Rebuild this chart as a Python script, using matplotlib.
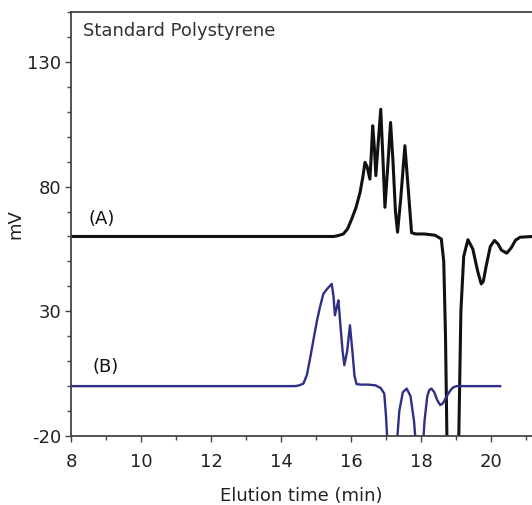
import matplotlib
matplotlib.use("Agg")
import matplotlib.pyplot as plt
from matplotlib.ticker import MultipleLocator

# ---- data ----
a_time = [8.0, 15.5, 15.62, 15.78, 15.9, 16.02, 16.14, 16.26, 16.34, 16.4, 16.46, 16.54,
          16.58, 16.62, 16.67, 16.71, 16.78, 16.85, 16.91, 16.97, 17.05, 17.13, 17.2,
          17.27, 17.33, 17.42, 17.54, 17.63, 17.73, 17.85, 18.1, 18.4, 18.58, 18.65,
          18.7, 18.74, 18.8, 18.9, 19.0, 19.08, 19.14, 19.22, 19.34, 19.48, 19.62,
          19.72, 19.78, 19.86, 19.98, 20.1, 20.2, 20.3, 20.45, 20.58, 20.7, 20.83, 21.2]
a_mv = [60.0, 60.0, 60.3, 61.0, 63.0, 67.0, 71.5, 77.7, 84.0, 89.7, 88.0, 83.0,
        93.0, 104.4, 95.0, 84.4, 98.0, 111.0, 92.0, 71.7, 88.0, 105.7, 90.0,
        70.0, 61.7, 75.0, 96.4, 80.0, 61.5, 61.0, 61.0, 60.5, 59.0, 50.0,
        20.0, -20.0, -60.0, -60.0, -60.0, -20.0, 30.0, 52.0, 58.7, 55.0, 46.0,
        41.0, 42.0, 48.0, 56.0, 58.4, 57.0, 54.5, 53.3, 55.5, 58.5, 59.7, 60.0]

b_time = [8.0, 14.4, 14.52, 14.64, 14.74, 14.83, 14.92, 15.02, 15.11, 15.21, 15.32,
          15.45, 15.5, 15.54, 15.6, 15.64, 15.7, 15.76, 15.81, 15.89, 15.97, 16.04,
          16.1, 16.16, 16.3, 16.5, 16.7, 16.85, 16.95, 17.0, 17.05, 17.12, 17.2,
          17.3, 17.38, 17.48, 17.59, 17.7, 17.8, 17.88, 17.96, 18.04, 18.1, 18.18,
          18.24, 18.3, 18.38, 18.46, 18.55, 18.62, 18.7, 18.78, 18.85, 18.92, 19.02,
          20.26]
b_mv = [0.0, 0.0, 0.3, 1.0, 4.5, 11.0, 18.0, 25.7, 31.5, 37.0, 39.0,
        41.0, 36.0, 28.4, 32.0, 34.4, 24.0, 14.0, 8.4, 14.0, 24.4, 14.0,
        4.0, 0.8, 0.6, 0.6, 0.3, -0.8, -3.0, -12.0, -25.0, -35.0, -35.0,
        -25.0, -10.0, -2.5, -1.0, -4.0, -14.0, -28.0, -35.0, -28.0, -14.0, -4.0,
        -1.5, -1.0, -2.5, -5.5, -7.6, -7.0, -5.0, -3.0, -1.5, -0.5, 0.0,
        0.0]

x_ticks = [8, 10, 12, 14, 16, 18, 20]
y_ticks = [-20, 30, 80, 130]

title_text = "Standard Polystyrene"
label_a = "(A)"
label_b = "(B)"

# ---- figure ----
plt.rcParams['font.family'] = ['DejaVu Sans']
plt.rcParams['axes.unicode_minus'] = False
fig = plt.figure(figsize=(5.32, 5.05), dpi=100)
ax = fig.add_axes([71 / 532, 1 - 436 / 505, 461 / 532, 424 / 505])

ax.plot(a_time, a_mv, color='#111111', lw=2.2, solid_joinstyle='round')
ax.plot(b_time, b_mv, color='#2e2f86', lw=1.7, solid_joinstyle='round')

ax.set_xlim(8, 8 + 461 / 35.0)
ax.set_ylim(-20, 150)
ax.set_xticks(x_ticks)
ax.set_yticks(y_ticks)
ax.xaxis.set_minor_locator(MultipleLocator(1))
ax.yaxis.set_minor_locator(MultipleLocator(10))

ax.tick_params(axis='both', which='major', direction='out', length=4, width=1,
               color='#444444', labelsize=13, labelcolor='#222222')
ax.tick_params(axis='x', which='major', pad=8)
ax.tick_params(axis='y', which='major', pad=3)
ax.tick_params(axis='both', which='minor', direction='out', length=3, width=1,
               color='#444444')

for side in ['left', 'bottom', 'top']:
    ax.spines[side].set_color('#444444')
    ax.spines[side].set_linewidth(1.3)
ax.spines['right'].set_visible(False)

ax.set_xlabel("Elution time (min)", fontsize=13, color='#222222', labelpad=12)
ax.set_ylabel("mV", fontsize=13, color='#222222', labelpad=2)

ax.text(0.025, 0.955, title_text, transform=ax.transAxes, fontsize=13,
        color='#333333', va='center', ha='left')
ax.text(8.5, 67, label_a, fontsize=13, color='#111111', va='center', ha='left')
ax.text(8.6, 7.5, label_b, fontsize=13, color='#111111', va='center', ha='left')

fig.savefig("out.png", dpi=100)
